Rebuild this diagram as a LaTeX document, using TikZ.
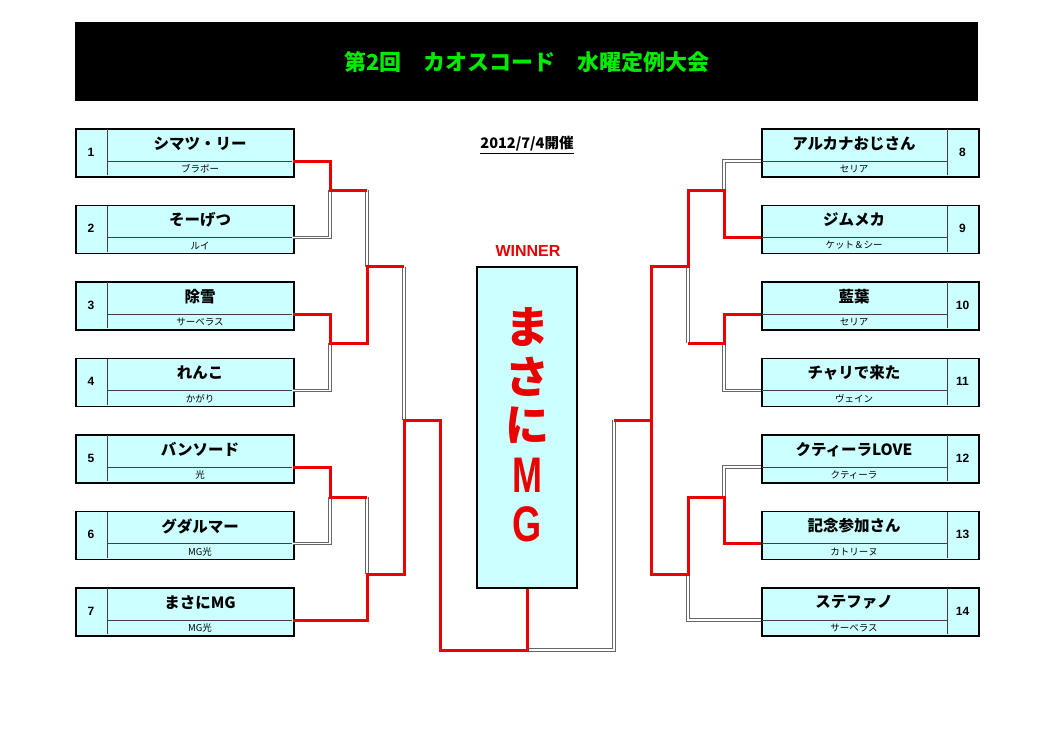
\documentclass[tikz,border=0pt]{standalone}
\usepackage{fontspec}
\setmainfont{Liberation Sans}
\newfontfamily\jp{Noto Sans CJK JP}
\definecolor{boxfill}{RGB}{204,255,255}
\definecolor{tgreen}{RGB}{0,235,0}
\definecolor{wred}{RGB}{235,0,0}
\tikzset{
  pbox/.style={draw=black, line width=1.8pt, fill=boxfill, minimum width=218pt, minimum height=48pt, inner sep=0pt, anchor=north west},
  divline/.style={draw=black!75, line width=0.9pt},
  subline/.style={draw=black!75, line width=0.9pt},
  numtext/.style={font=\bfseries\fontsize{12}{14}\selectfont, inner sep=0pt},
  nametext/.style={font=\jp\bfseries\fontsize{15.5}{17}\selectfont, inner sep=0pt},
  subtext/.style={font=\jp\fontsize{9.5}{11}\selectfont, inner sep=0pt},
  bigtext/.style={font=\jp\bfseries\fontsize{44}{46}\selectfont, text=wred, inner sep=0pt},
  biglatin/.style={font=\bfseries\fontsize{50}{52}\selectfont, text=wred, inner sep=0pt},
  win/.style={draw=wred, line width=3pt},
  lose/.style={draw=black!60, double=white, line width=1pt, double distance=1.3pt},
}
\newcommand\lplayer[5]{%
  \node[pbox] (#1) at (75,#2) {};
  \draw[divline] (107,#2+1) -- (107,#2+47);
  \draw[subline] (107,#2+33) -- (292,#2+33);
  \coordinate (#1o) at (293,#2+33);
  \node[numtext] (#1n) at (91,#2+24) {#3};
  \node[nametext] (#1m) at (200,#2+15.5) {#4};
  \node[subtext] (#1s) at (200,#2+41) {#5};
}
\newcommand\rplayer[5]{%
  \node[pbox, minimum width=217pt] (#1) at (761,#2) {};
  \draw[divline] (947,#2+1) -- (947,#2+47);
  \draw[subline] (762,#2+33) -- (947,#2+33);
  \coordinate (#1o) at (761,#2+33);
  \node[numtext] (#1n) at (962.5,#2+24) {#3};
  \node[nametext] (#1m) at (854,#2+15.5) {#4};
  \node[subtext] (#1s) at (854,#2+41) {#5};
}
\begin{document}
\begin{tikzpicture}[x=1pt, y=-1pt]
\useasboundingbox (0,0) rectangle (1053,744);
% title
\node[fill=black, minimum width=903pt, minimum height=79pt, inner sep=0pt, anchor=north west] (tb) at (75,22) {};
\node[text=tgreen, font=\jp\bfseries\fontsize{22}{24}\selectfont, inner sep=0pt] (tt) at (527,62) {第2回　カオスコード　水曜定例大会};
\node[font=\jp\bfseries\fontsize{14.5}{16}\selectfont, inner sep=0pt] (date) at (527,145) {\underline{2012/7/4開催}};
% junctions
\coordinate (L12a) at (330,190); \coordinate (L12) at (367,190);
\coordinate (L34a) at (330,343); \coordinate (L34) at (367,343);
\coordinate (L56a) at (330,497); \coordinate (L56) at (367,497);
\coordinate (L1234a) at (367,266.5); \coordinate (L1234) at (404,266.5);
\coordinate (L567a) at (367,574); \coordinate (L567) at (404,574);
\coordinate (Lfa) at (404,420); \coordinate (Lf) at (440,420);
\coordinate (Fl) at (440,650);
\coordinate (R89a) at (724,190); \coordinate (R89) at (688,190);
\coordinate (R1011a) at (724,343); \coordinate (R1011) at (688,343);
\coordinate (R1213a) at (724,497); \coordinate (R1213) at (688,497);
\coordinate (R811a) at (688,266.5); \coordinate (R811) at (651,266.5);
\coordinate (R1214a) at (688,574); \coordinate (R1214) at (651,574);
\coordinate (Rfa) at (651,420); \coordinate (Rf) at (614,420);
\coordinate (Fr) at (614,650);
% players
\lplayer{p1}{128}{1}{シマツ・リー}{ブラボー}
\lplayer{p2}{204.5}{2}{そーげつ}{ルイ}
\lplayer{p3}{281}{3}{除雪}{サーベラス}
\lplayer{p4}{357.5}{4}{れんこ}{かがり}
\lplayer{p5}{434}{5}{バンソード}{光}
\lplayer{p6}{510.5}{6}{グダルマー}{MG光}
\lplayer{p7}{587}{7}{まさにMG}{MG光}
\rplayer{p8}{128}{8}{アルカナおじさん}{セリア}
\rplayer{p9}{204.5}{9}{ジムメカ}{ケット＆シー}
\rplayer{p10}{281}{10}{藍葉}{セリア}
\rplayer{p11}{357.5}{11}{チャリで来た}{ヴェイン}
\rplayer{p12}{434}{12}{クティーラLOVE}{クティーラ}
\rplayer{p13}{510.5}{13}{記念参加さん}{カトリーヌ}
\rplayer{p14}{587}{14}{ステファノ}{サーベラス}
% winner
\node[font=\bfseries\fontsize{16}{18}\selectfont, text=wred, inner sep=0pt] (wl) at (528,251) {WINNER};
\node[draw=black, line width=1.8pt, fill=boxfill, minimum width=100pt, minimum height=321pt, inner sep=0pt] (w) at (527,427.5) {};
\coordinate (Fc) at (w.south |- Fl);
\node[bigtext] (w1) at (527,327) {ま};
\node[bigtext] (w2) at (527,377) {さ};
\node[bigtext] (w3) at (527,425) {に};
\node[biglatin] (w4) at (527,475) {\scalebox{0.72}[1]{M}};
\node[biglatin] (w5) at (527,524) {\scalebox{0.75}[1]{G}};
% losing lines
\draw[lose] (p2o) -| (L12a);
\draw[lose] (p4o) -| (L34a);
\draw[lose] (p6o) -| (L56a);
\draw[lose] (L12) -- (L1234a);
\draw[lose] (L56) -- (L567a);
\draw[lose] (L1234) -- (Lfa);
\draw[lose] (p8o) -| (R89a);
\draw[lose] (p11o) -| (R1011a);
\draw[lose] (p12o) -| (R1213a);
\draw[lose] (p14o) -| (R1214a);
\draw[lose] (R811a) -- (R1011);
\draw[lose] (Rf) -- (Fr) -- (Fc);
% winning lines
\draw[win] (p1o) -| (L12a) -- (L12);
\draw[win] (p3o) -| (L34a) -- (L34) -- (L1234a) -- (L1234);
\draw[win] (p5o) -| (L56a) -- (L56);
\draw[win] (p7o) -| (L567a) -- (L567) -- (Lfa) -- (Lf) -- (Fl) -- (Fc) -- (w.south);
\draw[win] (p9o) -| (R89a) -- (R89) -- (R811a) -- (R811) -- (Rfa) -- (Rf);
\draw[win] (p10o) -| (R1011a) -- (R1011);
\draw[win] (p13o) -| (R1213a) -- (R1213) -- (R1214a) -- (R1214) -- (Rfa);
\end{tikzpicture}
\end{document}
